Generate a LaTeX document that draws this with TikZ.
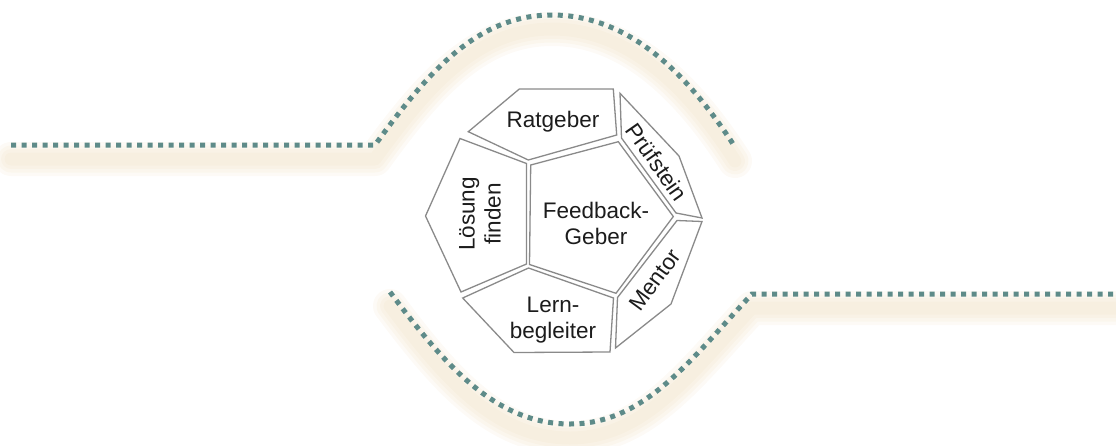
\documentclass[tikz,border=0pt]{standalone}
\usepackage{fontspec}
\setmainfont{Liberation Sans}
\usepackage{tikz}
\usepackage{xcolor}

\definecolor{dotteal}{RGB}{94,139,137}
\definecolor{glow}{RGB}{236,216,178}
\definecolor{facegray}{RGB}{138,138,138}
\definecolor{txt}{RGB}{28,28,28}

\tikzset{
	face/.style={draw=facegray, fill=white, line width=1.3pt},
	lbl/.style={text=txt, align=center, inner sep=0pt, font=\fontsize{22.5}{26}\selectfont},
	dotline/.style={draw=dotteal, line width=5pt, dash pattern=on 5pt off 5.5pt},
	glowline/.style={draw=glow, line cap=round, line join=round}
}

\def\leftwave{(11,145) -- (375,145) .. controls (428,72) and (477,15) .. (552,15) .. controls (627,15) and (686,71) .. (735,147)}
\def\rightwave{(390,292) .. controls (444,364) and (495,424) .. (570,424) .. controls (645,424) and (691,359) .. (752,294) -- (1116,294)}

\begin{document}
\begin{tikzpicture}[x=1pt, y=-1pt]
			\useasboundingbox (0,0) rectangle (1116,445);
			% soft glow under the wave
			\begin{scope}[shift={(0,14)}]
				\foreach \w in {34, 27, 20, 13} {
					\draw[glowline, line width=\w, opacity=0.12] \leftwave;
					\draw[glowline, line width=\w, opacity=0.12] \rightwave;
				}
			\end{scope}
			\draw[dotline] \leftwave;
			\draw[dotline] \rightwave;
			% faces
			\draw[face] (530.7,165) -- (618.3,141.7) -- (673.3,216.5) -- (616,293.3) -- (529.5,264.5) -- cycle;
			\draw[face] (468.3,131.7) -- (519.3,89) -- (613.3,89) -- (616.7,135) -- (528.3,160) -- cycle;
			\draw[face] (620,93.3) -- (679,156) -- (702,218) -- (676,213) -- (621.5,138) -- cycle;
			\draw[face] (677,220.5) -- (702,221.5) -- (671,304) -- (615.5,348) -- (617.5,297.5) -- cycle;
			\draw[face] (462.7,298) -- (528.5,268) -- (613.5,298) -- (610,352) -- (514,352.5) -- cycle;
			\draw[face] (460,138.5) -- (526.5,163.5) -- (526.5,264) -- (461,292) -- (425.5,216) -- cycle;
			% labels
			\node[lbl] (ratgeber) at (553,122) {Ratgeber};
			\node[lbl] (feedback) at (596,223) {Feedback-\\Geber};
			\node[lbl, rotate=90] (loesung) at (480,214) {Lösung\\finden};
			\node[lbl, rotate=-55] (pruefstein) at (657,162) {Prüfstein};
			\node[lbl, rotate=54] (mentor) at (655,280) {Mentor};
			\node[lbl] (lernbegleiter) at (553,320) {Lern-\\begleiter};
		\end{tikzpicture}
\end{document}
